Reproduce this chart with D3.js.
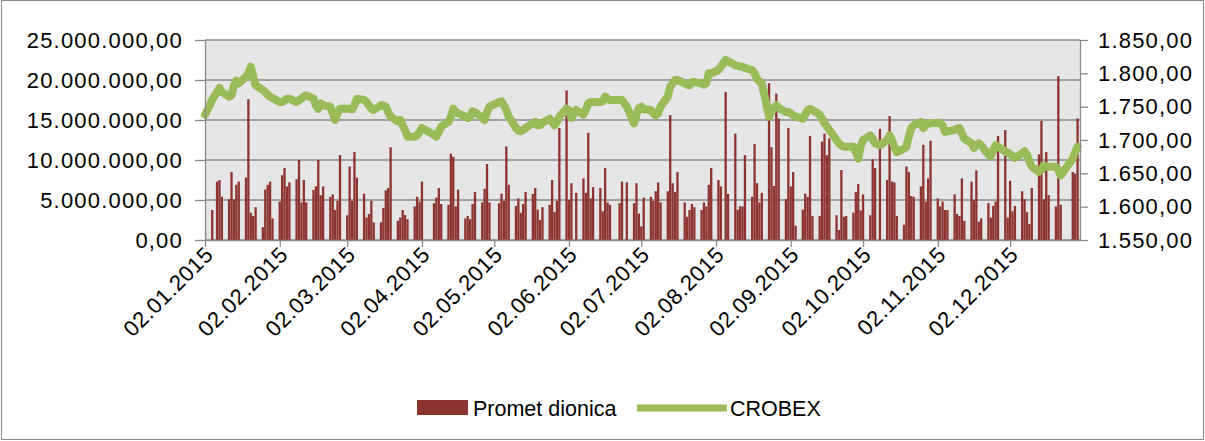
<!DOCTYPE html>
<html>
<head>
<meta charset="utf-8">
<script src="https://cdn.jsdelivr.net/npm/d3@7"></script>
<style>
  body { margin: 0; background: #fff; }
  svg { display: block; font-family: "Liberation Sans", Arial, sans-serif; }
  .axis text { font-size: 22px; letter-spacing: 1.2px; fill: #000; }
  .axis--x text { letter-spacing: 0.6px; }
  .axis path, .axis line { stroke: #8a8a8a; stroke-width: 1.3px; }
  .grid line { stroke: #8a8a8a; stroke-width: 1.3px; }
  .legend text { font-size: 21.5px; fill: #000; }
</style>
</head>
<body>
<svg width="1205" height="441"></svg>
<script>

// Days the exchange was closed in 2015 (weekends are skipped anyway)
var holidays = ["2015-01-01", "2015-01-06", "2015-04-03", "2015-04-06", "2015-05-01", "2015-06-04",
    "2015-06-22", "2015-06-25", "2015-08-05", "2015-10-08", "2015-12-24", "2015-12-25", "2015-12-31"];

// Dates shown on the x axis
var tickDates = ["2015-01-02", "2015-02-02", "2015-03-02", "2015-04-02", "2015-05-02", "2015-06-02",
    "2015-07-02", "2015-08-02", "2015-09-02", "2015-10-02", "2015-11-02", "2015-12-02"];

// Axis ticks
var leftTicks = [0, 5e6, 10e6, 15e6, 20e6, 25e6];
var rightTicks = [1550, 1600, 1650, 1700, 1750, 1800, 1850];

// Promet dionica, millions, one value per trading day
var prometJan = [1.1, 3.75, 7.3, 7.5, 5.4, 5.1, 8.5, 5.1, 6.9, 7.3, 7.8, 17.6, 3.4, 3.0, 4.1, 1.6, 6.3, 6.9, 7.3, 2.7];
var prometFeb = [4.8, 8.1, 9.0, 6.7, 7.2, 7.6, 10.0, 4.7, 7.5, 4.7, 6.25, 6.7, 10.0, 5.6, 6.7, 5.4, 5.7, 3.75, 4.9, 10.6];
var prometMar = [3.1, 9.2, 4.9, 11.0, 7.8, 5.8, 2.8, 3.25, 4.9, 2.2, 2.2, 4.0, 6.2, 6.5, 11.6, 2.4, 2.8, 3.75, 3.1, 2.6, 4.2, 5.4];
var prometApr = [4.8, 7.3, 4.6, 5.3, 6.5, 4.5, 4.4, 10.8, 10.4, 4.2, 6.3, 2.7, 3.0, 2.6, 4.5, 6.0, 4.7, 6.4, 9.5, 4.7];
var prometMay = [4.6, 5.8, 4.9, 11.7, 6.9, 4.25, 5.2, 3.4, 4.5, 6.0, 5.75, 6.5, 3.8, 2.5, 4.1, 4.4, 7.5, 3.5, 4.9, 14.0];
var prometJun = [18.7, 5.0, 7.1, 5.9, 7.7, 5.9, 13.4, 5.2, 6.6, 6.5, 3.6, 9.0, 4.7, 4.4, 4.6, 7.3, 7.2, 4.6, 7.1];
var prometJul = [3.3, 1.7, 5.3, 5.4, 4.9, 6.1, 7.2, 4.7, 6.1, 15.6, 7.1, 6.0, 8.5, 4.7, 2.9, 3.75, 4.5, 4.1, 3.75, 4.7, 4.2, 6.9, 9.0];
var prometAug = [7.5, 6.7, 18.5, 5.75, 13.3, 3.8, 4.2, 4.2, 10.6, 5.4, 12.0, 7.1, 4.7, 5.9, 19.6, 11.6, 6.75, 18.3, 15.2, 5.1];
var prometSep = [14.0, 6.7, 8.5, 1.8, 3.8, 5.8, 5.4, 13.0, 3.0, 3.0, 12.3, 13.3, 10.6, 12.7, 3.1, 1.25, 8.75, 2.9, 3.0, 3.4, 6.0, 7.0];
var prometOct = [3.7, 5.7, 3.1, 10.1, 9.0, 13.9, 7.5, 15.5, 7.3, 7.2, 3.0, 1.9, 9.2, 8.5, 5.5, 5.4, 6.7, 11.9, 4.8, 7.7, 12.4];
var prometNov = [5.2, 4.2, 4.8, 3.75, 3.75, 5.7, 3.25, 3.0, 7.7, 2.4, 7.3, 5.0, 8.7, 2.3, 2.7, 4.6, 2.8, 4.25, 4.8, 13.0, 13.75];
var prometDec = [2.8, 7.4, 3.6, 4.25, 6.1, 5.1, 3.5, 2.0, 6.5, 10.7, 14.9, 5.1, 11.0, 5.6, 4.2, 20.5, 4.4, 8.5, 8.3, 15.2];

// CROBEX closing values, one per trading day
var crobexJan = [1738, 1760, 1772, 1778, 1772, 1765, 1767, 1782, 1789, 1785, 1795, 1800, 1810, 1795, 1782, 1775, 1772, 1768, 1765, 1763];
var crobexFeb = [1757, 1757, 1759, 1762, 1762, 1757, 1760, 1762, 1765, 1767, 1762, 1752, 1747, 1755, 1752, 1750, 1740, 1730, 1740, 1747];
var crobexMar = [1747, 1747, 1746, 1752, 1762, 1760, 1757, 1752, 1747, 1745, 1752, 1752, 1750, 1742, 1735, 1728, 1730, 1722, 1715, 1705, 1705, 1707];
var crobexApr = [1712, 1718, 1708, 1705, 1712, 1720, 1727, 1735, 1747, 1742, 1740, 1735, 1733, 1735, 1743, 1742, 1733, 1730, 1742, 1750];
var crobexMay = [1757, 1758, 1752, 1745, 1735, 1718, 1714, 1713, 1715, 1718, 1725, 1727, 1722, 1722, 1726, 1732, 1728, 1722, 1727, 1735];
var crobexJun = [1747, 1745, 1733, 1745, 1738, 1745, 1755, 1757, 1757, 1757, 1758, 1765, 1762, 1760, 1760, 1760, 1750, 1725, 1738];
var crobexJul = [1748, 1750, 1746, 1745, 1740, 1737, 1740, 1750, 1765, 1780, 1785, 1790, 1790, 1785, 1783, 1782, 1787, 1787, 1785, 1783, 1785, 1800, 1800];
var crobexAug = [1805, 1810, 1820, 1818, 1812, 1811, 1810, 1810, 1808, 1805, 1800, 1792, 1788, 1785, 1735, 1742, 1748, 1752, 1748, 1742];
var crobexSep = [1742, 1740, 1737, 1735, 1732, 1738, 1745, 1747, 1745, 1738, 1732, 1725, 1720, 1715, 1700, 1695, 1692, 1690, 1690, 1690, 1682, 1672];
var crobexOct = [1690, 1700, 1707, 1702, 1695, 1692, 1700, 1707, 1700, 1690, 1682, 1687, 1690, 1705, 1718, 1722, 1727, 1718, 1722, 1725, 1725];
var crobexNov = [1726, 1725, 1722, 1712, 1713, 1715, 1717, 1718, 1710, 1702, 1695, 1688, 1692, 1695, 1692, 1678, 1676, 1685, 1692, 1690, 1683];
var crobexDec = [1681, 1679, 1676, 1673, 1680, 1683, 1678, 1668, 1660, 1652, 1655, 1662, 1660, 1660, 1660, 1655, 1647, 1672, 1682, 1690];

var barColor = "#8d3431",
    lineColor = "#9bbb59";

// Setting up the top level SVG
var svg = d3.select("svg"),
    margin = {top: 40, right: 125, bottom: 201, left: 205},
    width = +svg.attr("width") - margin.left - margin.right,
    height = +svg.attr("height") - margin.top - margin.bottom;

var parseDate = d3.timeParse("%Y-%m-%d");
var keyDate = d3.timeFormat("%Y-%m-%d");
var formatDate = d3.timeFormat("%d.%m.%Y");
var hr = d3.formatLocale({decimal: ",", thousands: ".", grouping: [3], currency: ["", ""]});
var formatNum = hr.format(",.2f");

// Building the list of trading days and joining the monthly arrays
var days = [];
for (var day = new Date(2015, 0, 1); day.getFullYear() === 2015; day = d3.timeDay.offset(day, 1)) {
    var dow = day.getDay();
    if (dow === 0 || dow === 6) continue;
    if (holidays.indexOf(keyDate(day)) >= 0) continue;
    days.push(day);
}
var promet = [].concat(prometJan, prometFeb, prometMar, prometApr, prometMay, prometJun,
    prometJul, prometAug, prometSep, prometOct, prometNov, prometDec);
var crobex = [].concat(crobexJan, crobexFeb, crobexMar, crobexApr, crobexMay, crobexJun,
    crobexJul, crobexAug, crobexSep, crobexOct, crobexNov, crobexDec);
var data = days.map((d, i) => {
    return {date: d, promet: promet[i] * 1e6, crobex: crobex[i]};
});

// Outer frame of the chart
svg.append("rect")
    .attr("x", 1.5).attr("y", 0.5)
    .attr("width", 1202).attr("height", 439)
    .attr("fill", "#fff")
    .attr("stroke", "#8a8a8a");

var g = svg.append("g")
    .attr("transform", "translate(" + margin.left + "," + margin.top + ")");

// Setting up the scaling
var x = d3.scaleTime()
    .domain([parseDate("2015-01-02"), parseDate("2015-12-31")])
    .range([0, width]);
var y0 = d3.scaleLinear().domain([0, 25e6]).range([height, 0]);
var y1 = d3.scaleLinear().domain([1550, 1850]).range([height, 0]);

// Plot area background
g.append("rect")
    .attr("width", width)
    .attr("height", height)
    .attr("fill", "#e6e6e6");

g.append("clipPath").attr("id", "plot")
    .append("rect").attr("width", width).attr("height", height);

// Horizontal gridlines
g.append("g")
    .attr("class", "grid")
    .selectAll("line")
    .data(leftTicks)
    .enter().append("line")
    .attr("x1", 0).attr("x2", width)
    .attr("y1", (d) => { return y0(d); })
    .attr("y2", (d) => { return y0(d); });

// Bars of turnover
var barW = 2.3;
g.append("g")
    .attr("clip-path", "url(#plot)")
    .selectAll(".bar")
    .data(data)
    .enter().append("rect")
    .attr("class", "bar")
    .attr("x", (d) => { return x(d.date) - barW / 2; })
    .attr("y", (d) => { return y0(d.promet); })
    .attr("width", barW)
    .attr("height", (d) => { return height - y0(d.promet); })
    .attr("fill", barColor);

// CROBEX line
var line = d3.line()
    .x((d) => { return x(d.date); })
    .y((d) => { return y1(d.crobex); });

g.append("path")
    .datum(data)
    .attr("fill", "none")
    .attr("stroke", lineColor)
    .attr("stroke-width", 8)
    .attr("stroke-linejoin", "round")
    .attr("stroke-linecap", "round")
    .attr("d", line);

// Left axis
g.append("g")
    .attr("class", "axis axis--y")
    .call(d3.axisLeft(y0)
        .tickValues(leftTicks)
        .tickSize(10)
        .tickSizeOuter(0)
        .tickPadding(12)
        .tickFormat(formatNum));

// Right axis
g.append("g")
    .attr("class", "axis axis--y2")
    .attr("transform", "translate(" + width + ",0)")
    .call(d3.axisRight(y1)
        .tickValues(rightTicks)
        .tickSize(8)
        .tickSizeOuter(0)
        .tickPadding(10)
        .tickFormat(formatNum));

// Bottom axis with rotated dates
var xAxis = g.append("g")
    .attr("class", "axis axis--x")
    .attr("transform", "translate(0," + height + ")")
    .call(d3.axisBottom(x)
        .tickValues(tickDates.map(parseDate))
        .tickSize(7)
        .tickSizeOuter(0)
        .tickFormat(formatDate));

xAxis.selectAll("text")
    .attr("text-anchor", "end")
    .attr("x", 0).attr("y", 0).attr("dy", 0)
    .attr("transform", "translate(9,16) rotate(-45)");

// Legend
var legend = svg.append("g").attr("class", "legend");

legend.append("rect")
    .attr("x", 417).attr("y", 400)
    .attr("width", 51).attr("height", 15)
    .attr("fill", barColor);

legend.append("text")
    .attr("x", 473).attr("y", 416)
    .text("Promet dionica");

legend.append("line")
    .attr("x1", 637).attr("x2", 727)
    .attr("y1", 408).attr("y2", 408)
    .attr("stroke", lineColor)
    .attr("stroke-width", 7);

legend.append("text")
    .attr("x", 730).attr("y", 416)
    .text("CROBEX");

</script>
</body>
</html>
